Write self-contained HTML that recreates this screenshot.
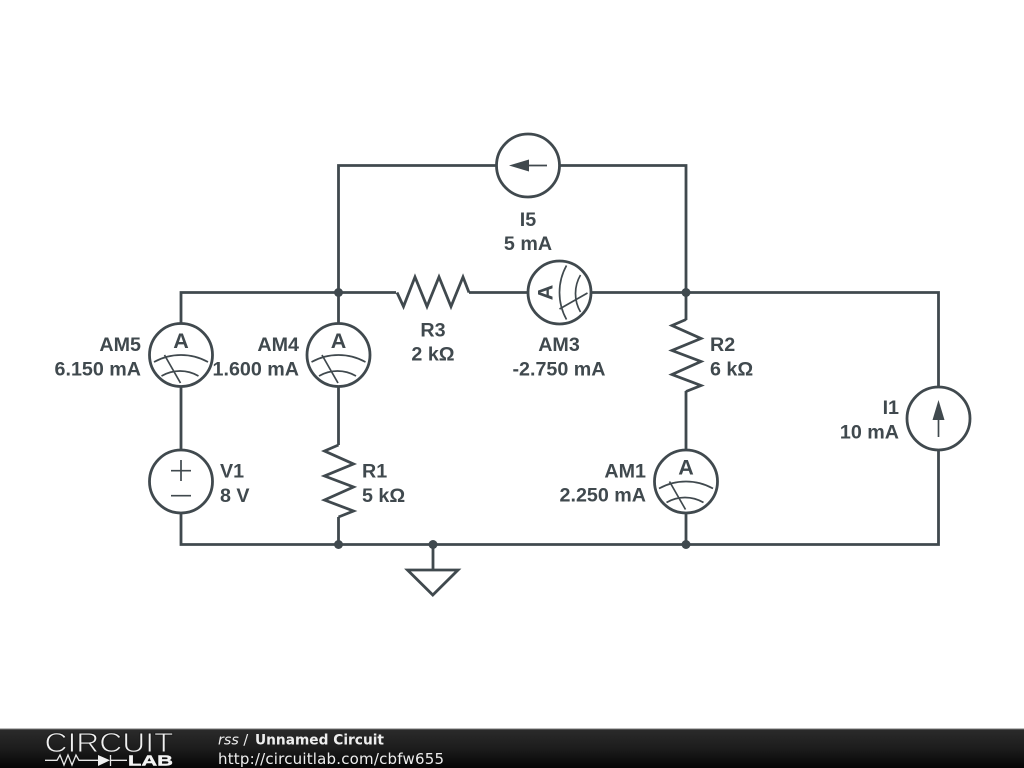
<!DOCTYPE html>
<html><head><meta charset="utf-8"><style>
html,body{margin:0;padding:0;background:#fff;width:1024px;height:768px;overflow:hidden}
svg{display:block;filter:blur(.3px)}
.l{font:bold 19.7px "Liberation Sans",sans-serif;fill:#40494e}
.e{text-anchor:end}.m{text-anchor:middle}
.w{fill:none;stroke:#40494e;stroke-width:2.8;stroke-linejoin:miter}
.c{fill:#fff;stroke:#40494e;stroke-width:2.8}
.t{fill:none;stroke:#40494e;stroke-width:1.7}
.a{font:bold 21.5px "Liberation Sans",sans-serif;fill:#40494e;text-anchor:middle}
</style></head><body>
<svg width="1024" height="768" viewBox="0 0 1024 768" xmlns="http://www.w3.org/2000/svg">
<defs>
<linearGradient id="fb" x1="0" y1="0" x2="0" y2="1"><stop offset="0" stop-color="#2b2b2b"/><stop offset=".5" stop-color="#1c1c1c"/><stop offset="1" stop-color="#050505"/></linearGradient>
<g id="am">
<circle r="31.5" class="c"/>
<text class="a" x="0" y="-7">A</text>
<path class="t" d="M-27 7A55.600 55.600 0 0 1 27 7M-19.500 21A36.700 36.700 0 0 1 17.500 21M-16.500 0L-0.500 28"/>
</g>
<path id="zz" class="w" d="M0 0L-14 6L15 19L-14 31L15 42L-14 55L15 66L0 72"/>
</defs>
<rect width="1024" height="768" fill="#fff"/>
<path class="w" d="M181 292.5H938.5V544.5H181ZM338.5 292.5V165.5H686V544.5M338.5 292.5V445M338.5 517V544.5M433 544.5V570"/>
<path class="w" d="M407.5 570H458L432.8 595Z"/>
<rect x="396" y="288" width="73" height="9" fill="#fff"/>
<rect x="681" y="320" width="10" height="71" fill="#fff"/>
<rect x="334" y="446" width="9" height="70" fill="#fff"/>
<path class="w" d="M397 292.5L403.5 306.5L415 277L427 306.5L439 277L451 306.5L463 277L469 292.5"/>
<use href="#zz" x="338.5" y="445"/>
<use href="#zz" x="686" y="319.5"/>
<circle cx="338.5" cy="292.5" r="4.5" fill="#40494e"/>
<circle cx="686" cy="292.5" r="4.5" fill="#40494e"/>
<circle cx="338.5" cy="544.5" r="4.5" fill="#40494e"/>
<circle cx="433" cy="544.5" r="4.5" fill="#40494e"/>
<circle cx="686" cy="544.5" r="4.5" fill="#40494e"/>
<use href="#am" x="181" y="355"/>
<use href="#am" x="338.5" y="355"/>
<use href="#am" x="686" y="481.5"/>
<g transform="translate(559.5 292.5) rotate(-90)"><use href="#am"/></g>
<circle cx="181" cy="481.5" r="31.5" class="c"/>
<path class="t" d="M171 470.7H191M181 460V481M171 495.7H191"/>
<circle cx="528" cy="165.5" r="31.5" class="c"/>
<path class="t" d="M547 165.5H525"/><path d="M509 165.5L529 159.5V171.5Z" fill="#40494e"/>
<circle cx="938.5" cy="418.5" r="31.5" class="c"/>
<path class="t" d="M938.5 437V415"/><path d="M938.5 400L932.5 420H944.5Z" fill="#40494e"/>
<text class="l e" x="141" y="351">AM5</text><text class="l e" x="141" y="375.500">6.150 mA</text>
<text class="l e" x="299" y="351">AM4</text><text class="l e" x="299" y="375.500">1.600 mA</text>
<text class="l" x="220" y="477.500">V1</text><text class="l" x="220" y="502">8 V</text>
<text class="l" x="362" y="477.500">R1</text><text class="l" x="362" y="502">5 kΩ</text>
<text class="l m" x="433" y="336.500">R3</text><text class="l m" x="433" y="360.500">2 kΩ</text>
<text class="l m" x="528" y="226">I5</text><text class="l m" x="528" y="250">5 mA</text>
<text class="l m" x="559" y="351">AM3</text><text class="l m" x="559" y="375.500">-2.750 mA</text>
<text class="l" x="710" y="351">R2</text><text class="l" x="710" y="375.500">6 kΩ</text>
<text class="l e" x="899" y="414">I1</text><text class="l e" x="899" y="438.500">10 mA</text>
<text class="l e" x="646" y="477.500">AM1</text><text class="l e" x="646" y="501.500">2.250 mA</text>
<rect x="0" y="729" width="1024" height="39" fill="url(#fb)"/>
<rect x="0" y="728.500" width="1024" height="1" fill="#777"/>
<text x="44.500" y="752" font-family="Liberation Sans,sans-serif" font-size="27.500" fill="#f0f0f0" stroke="#1c1c1c" stroke-width=".9" textLength="129" lengthAdjust="spacingAndGlyphs">CIRCUIT</text>
<path d="M45 760.300H57L60 755L64 765L68 755L72 765L76 755L79 760.300H98M110 760.300H127M110.500 755V766" fill="none" stroke="#e8e8e8" stroke-width="1.300"/>
<path d="M98 755L110 760.300L98 766Z" fill="#f0f0f0"/>
<text x="128" y="765.500" font-family="Liberation Sans,sans-serif" font-size="15" font-weight="bold" fill="#f4f4f4" stroke="#f4f4f4" stroke-width=".4" textLength="45" lengthAdjust="spacingAndGlyphs">LAB</text>
<text x="218" y="744.500" font-family="DejaVu Sans,sans-serif" font-size="14.300" fill="#eee"><tspan font-style="italic">rss</tspan> / <tspan font-weight="bold" x="255" textLength="129" lengthAdjust="spacingAndGlyphs">Unnamed Circuit</tspan></text>
<text x="218" y="764" font-family="DejaVu Sans,sans-serif" font-size="15" fill="#eee" textLength="226" lengthAdjust="spacing">http://circuitlab.com/cbfw655</text>
</svg>
</body></html>
